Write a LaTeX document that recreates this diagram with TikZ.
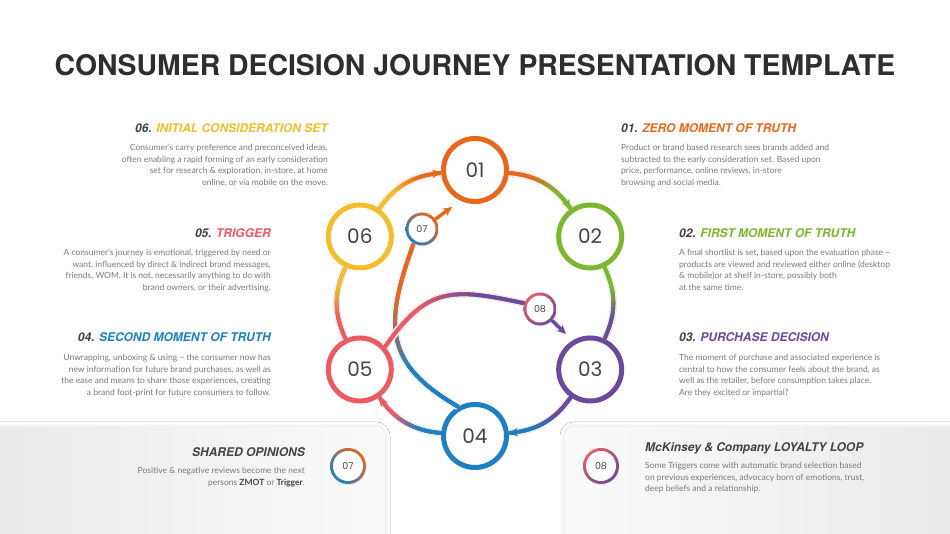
\documentclass[tikz,border=0pt]{standalone}
\usepackage{fontspec}
\setmainfont{Lato}
\newfontfamily\headfont{TeX Gyre Heros}
\newfontfamily\numfont{Poppins}
\usetikzlibrary{positioning,arrows.meta,decorations.markings,shadows,shadows.blur}

\definecolor{zmotorange}{HTML}{E8671C}
\definecolor{fmotgreen}{HTML}{7CB82F}
\definecolor{buypurple}{HTML}{6A4A9C}
\definecolor{smotblue}{HTML}{1E80C1}
\definecolor{trigred}{HTML}{EC5A62}
\definecolor{setyellow}{HTML}{F2BE2C}
\definecolor{headgray}{HTML}{444444}
\definecolor{titlegray}{HTML}{2E2E2E}
\definecolor{bodygray}{HTML}{7A7A7A}
\definecolor{cardgray}{HTML}{EAEAEA}
\definecolor{cardwhite}{HTML}{FAFAFA}

\tikzset{
  stage/.style={circle, draw=#1, line width=5pt, fill=white, minimum size=63pt,
    inner sep=0pt, font=\numfont\fontsize{20}{20}\selectfont, text=headgray,
    drop shadow={opacity=0.18, shadow xshift=1pt, shadow yshift=-1.5pt}},
  loopmark/.style n args={3}{circle, inner sep=0pt, text=headgray,
    font=\numfont\fontsize{9.5}{9.5}\selectfont,
    drop shadow={opacity=0.15, shadow xshift=0.5pt, shadow yshift=-1pt},
    path picture={
      \shade[top color=#1, bottom color=#2, shading angle=#3]
        (path picture bounding box.south west) rectangle (path picture bounding box.north east);
      \fill[white] (path picture bounding box.center)
        circle[radius={\pgfkeysvalueof{/pgf/minimum width}/2-3pt}];}},
  flow/.style 2 args={
    preaction={draw=black!7, line width=7.5pt},
    preaction={draw=#1, line width=3.8pt},
    postaction={decorate, decoration={markings,
      mark=between positions 0 and 1 step 0.6pt with {
        \pgfmathsetmacro\mixpc{min(100,max(0,250*(\pgfkeysvalueof{/pgf/decoration/mark info/distance from start}/\pgfdecoratedpathlength-0.3)))}
        \draw[#2!\mixpc!#1, line width=3.8pt] (-0.5pt,0) -- (0.5pt,0);}}}},
  flow tip/.style={postaction={decorate, decoration={markings,
    mark=at position 1 with {\arrow[color=#1]{Stealth[length=9pt,width=8.5pt]}}}}},
  heading/.style={font=\headfont\bfseries\itshape\fontsize{12}{14}\selectfont,
    text=headgray, inner sep=0pt},
  blurb/.style={font=\fontsize{8.5}{11.4}\selectfont, text=bodygray, inner sep=0pt},
}

\begin{document}
\begin{tikzpicture}[x=1pt, y=1pt]
  \useasboundingbox (0,0) rectangle (950,534);
  \fill[white] (0,0) rectangle (950,534);

  % bottom cards
  \shade[left color=cardgray, right color=cardwhite, rounded corners=9pt,
    blur shadow={shadow xshift=0pt, shadow yshift=0pt, shadow blur radius=5pt, shadow opacity=12}]
    (-15,-15) rectangle (385,107);
  \shade[left color=cardwhite, right color=cardgray, rounded corners=9pt,
    blur shadow={shadow xshift=0pt, shadow yshift=0pt, shadow blur radius=5pt, shadow opacity=12}]
    (565,-15) rectangle (965,107);

  % title
  \node[font=\headfont\bfseries\fontsize{28.4}{28.4}\selectfont, text=titlegray, anchor=base]
    (title) at (475,458) {CONSUMER DECISION JOURNEY PRESENTATION TEMPLATE};

  % journey circles
  \coordinate (ring) at (475,231);
  \node[stage=zmotorange] (n01) at ([shift={(90:133)}]ring) {01};
  \node[stage=fmotgreen] (n02) at ([shift={(30:133)}]ring) {02};
  \node[stage=buypurple] (n03) at ([shift={(-30:133)}]ring) {03};
  \node[stage=smotblue] (n04) at ([shift={(-90:133)}]ring) {04};
  \node[stage=trigred] (n05) at ([shift={(210:133)}]ring) {05};
  \node[stage=setyellow] (n06) at ([shift={(150:133)}]ring) {06};
  \node[loopmark={zmotorange}{smotblue}{-45}, minimum size=33pt] (n07) at (422,305) {07};
  \node[loopmark={trigred}{buypurple}{45}, minimum size=33pt] (n08) at (540,225) {08};
  \coordinate (tip07) at (452,327);
  \coordinate (tip08) at (566,200);

  \path[flow={zmotorange}{fmotgreen}, flow tip=fmotgreen] (n01) to[bend left=25] (n02);
  \path[flow={fmotgreen}{buypurple}, flow tip=buypurple] (n02) to[bend left=25] (n03);
  \path[flow={buypurple}{smotblue}, flow tip=smotblue] (n03) to[bend left=25] (n04);
  \path[flow={smotblue}{trigred}, flow tip=trigred] (n04) to[bend left=25] (n05);
  \path[flow={trigred}{setyellow}, flow tip=setyellow] (n05) to[bend left=25] (n06);
  \path[flow={setyellow}{zmotorange}, flow tip=zmotorange] (n06) to[bend left=25] (n01);

  % inner loops
  \path[flow={smotblue}{zmotorange}] (n04.120) to[out=150, in=-110, looseness=1.3] (n07.-120);
  \draw[zmotorange, line width=3.5pt, -{Stealth[length=9pt,width=8.5pt]}] (n07) -- (tip07);
  \path[flow={trigred}{buypurple}] (n05.42) to[out=55, in=168, looseness=1.3] (n08.160);
  \draw[buypurple, line width=3.5pt, -{Stealth[length=9pt,width=8.5pt]}] (n08) -- (tip08);

  % left texts
  \node[heading, anchor=base east] (h06) at (328,401)
    {06. \textcolor{setyellow}{INITIAL CONSIDERATION SET}};
  \node[blurb, align=right, anchor=base east] (t06) at (328,348.8)
    {Consumer's carry preference and preconceived ideas,\\
     often enabling a rapid forming of an early consideration\\
     set for research \& exploration, in-store, at home\\
     online, or via mobile on the move.};
  \node[heading, anchor=base east] (h05) at (271,296)
    {05. \textcolor{trigred}{TRIGGER}};
  \node[blurb, align=right, anchor=base east] (t05) at (271,243.8)
    {A consumer's journey is emotional, triggered by need or\\
     want, influenced by direct \& indirect brand messages,\\
     friends, WOM. It is not, necessarily anything to do with\\
     brand owners, or their advertising.};
  \node[heading, anchor=base east] (h04) at (271,192)
    {04. \textcolor{smotblue}{SECOND MOMENT OF TRUTH}};
  \node[blurb, align=right, anchor=base east] (t04) at (271,138.8)
    {Unwrapping, unboxing \& using – the consumer now has\\
     new information for future brand purchases, as well as\\
     the ease and means to share those experiences, creating\\
     a brand foot-print for future consumers to follow.};

  % right texts
  \node[heading, anchor=base west] (h01) at (621,401)
    {01. \textcolor{zmotorange}{ZERO MOMENT OF TRUTH}};
  \node[blurb, align=left, anchor=base west] (t01) at (621,348.8)
    {Product or brand based research sees brands added and\\
     subtracted to the early consideration set. Based upon\\
     price, performance, online reviews, in-store\\
     browsing and social media.};
  \node[heading, anchor=base west] (h02) at (679,296)
    {02. \textcolor{fmotgreen}{FIRST MOMENT OF TRUTH}};
  \node[blurb, align=left, anchor=base west] (t02) at (679,243.8)
    {A final shortlist is set, based upon the evaluation phase –\\
     products are viewed and reviewed either online (desktop\\
     \& mobile)or at shelf in-store, possibly both\\
     at the same time.};
  \node[heading, anchor=base west] (h03) at (679,192)
    {03. \textcolor{buypurple}{PURCHASE DECISION}};
  \node[blurb, align=left, anchor=base west] (t03) at (679,138.8)
    {The moment of purchase and associated experience is\\
     central to how the consumer feels about the brand, as\\
     well as the retailer, before consumption takes place.\\
     Are they excited or impartial?};

  % card texts
  \node[loopmark={zmotorange}{smotblue}{-45}, minimum size=36pt] (c07) at (348,68) {07};
  \node[heading, anchor=base east] (hshare) at (305,77) {SHARED OPINIONS};
  \node[blurb, align=right, anchor=base east] (tshare) at (305,48.6)
    {Positive \& negative reviews become the next\\
     persons \textbf{\textcolor{headgray}{ZMOT}} or \textbf{\textcolor{headgray}{Trigger}}.};
  \node[loopmark={trigred}{buypurple}{45}, minimum size=36pt] (c08) at (601,68) {08};
  \node[heading, anchor=base west] (hloop) at (645,82) {McKinsey \& Company LOYALTY LOOP};
  \node[blurb, align=left, anchor=base west] (tloop) at (645,42.2)
    {Some Triggers come with automatic brand selection based\\
     on previous experiences, advocacy born of emotions, trust,\\
     deep beliefs and a relationship.};
\end{tikzpicture}
\end{document}
